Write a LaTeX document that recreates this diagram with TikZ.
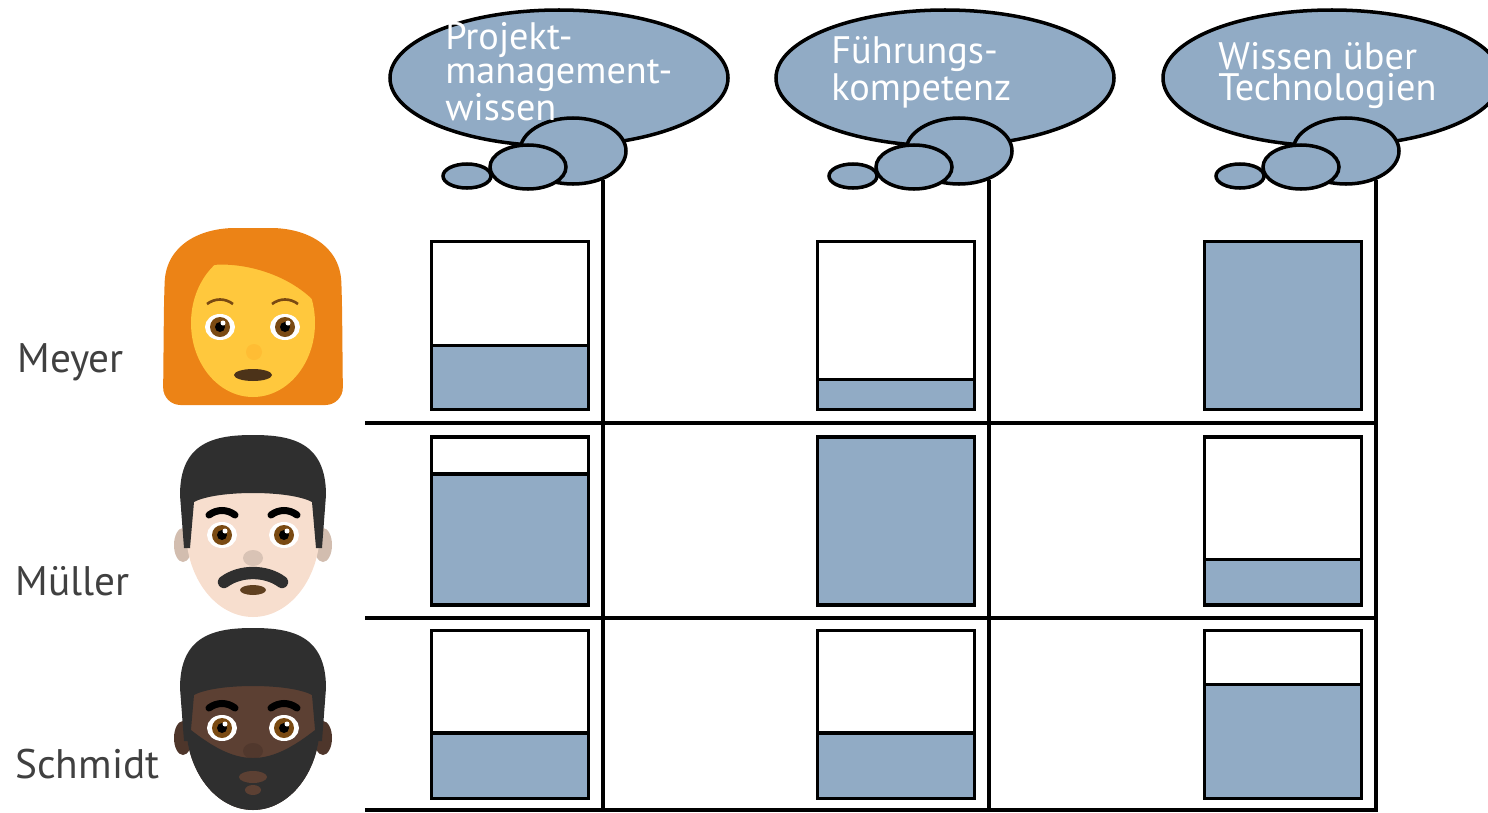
\documentclass[tikz,border=0pt]{standalone}
\usepackage{fontspec}
\setmainfont{PT Sans}
\usetikzlibrary{calc}
\definecolor{skill}{RGB}{145,171,197}
\definecolor{namegray}{RGB}{64,64,64}
\definecolor{redhair}{RGB}{236,131,22}
\definecolor{yellowskin}{RGB}{255,200,61}
\definecolor{lightskin}{RGB}{247,222,206}
\definecolor{darkskin}{RGB}{92,64,51}
\definecolor{blackhair}{RGB}{47,47,47}
\definecolor{iris}{RGB}{122,74,18}
\newcommand{\eye}[2]{\fill[white] (#1,#2) ellipse [x radius=15, y radius=13];
  \fill[iris] (#1,#2) circle [radius=10]; \fill[black] (#1,#2) circle [radius=5];
  \fill[white] (#1+3,#2-4) circle [radius=2.5];}
\newcommand{\brow}[2]{\draw[brow] (#1-13,#2+3) .. controls (#1-5,#2-3) and (#1+5,#2-3) .. (#1+13,#2+3);}

\begin{document}
\begin{tikzpicture}[x=0.02cm, y=-0.02cm,
    grid/.style={line width=2.3pt},
    bubble/.style={fill=skill, draw=black, line width=2pt},
    skilltext/.style={anchor=base west, align=left, text=white, inner sep=0pt,
      font=\fontsize{21.8}{17.5}\selectfont},
    person/.style={anchor=base west, inner sep=0pt, text=namegray,
      font=\fontsize{23.5}{28}\selectfont},
    level/.style={draw, line width=1.9pt, inner sep=0pt, minimum width=3.14cm, minimum height=3.36cm,
      path picture={\fill[skill] (path picture bounding box.south west) rectangle
        ($(path picture bounding box.south east)!#1!(path picture bounding box.north east)$);
        \draw[line width=1.9pt] ($(path picture bounding box.south west)!#1!(path picture bounding box.north west)$)
        -- ($(path picture bounding box.south east)!#1!(path picture bounding box.north east)$);}},
    brow/.style={line width=4pt, line cap=round}]
  \useasboundingbox (0,0) rectangle (1488,812);

  % grid
  \foreach \x in {603, 989, 1376}
    \draw[grid] (\x,180) -- (\x,812);
  \foreach \y in {423, 618, 810}
    \draw[grid] (365,\y) -- (1376,\y);

  % thought bubbles
  \foreach \x/\ty/\txt [count=\i] in {603/120/{Projekt-\\management-\\wissen},
      989/100/{Führungs-\\kompetenz}, 1376/100/{Wissen über\\Technologien}} {
    \draw[bubble] (\x-44,78) ellipse [x radius=169, y radius=68];
    \draw[bubble] (\x-30,151) ellipse [x radius=53, y radius=33];
    \draw[bubble] (\x-75,167) ellipse [x radius=38, y radius=22];
    \draw[bubble] (\x-136,176) ellipse [x radius=24, y radius=12];
    \node[skilltext] (skill\i) at (\x-158,\ty) {\txt};
  }

  % levels
  \foreach \r/\y/\fa/\fb/\fc in {1/325.5/.38/.18/1, 2/521/.78/1/.27, 3/714.5/.39/.39/.68}
    \foreach \c/\x/\f in {1/510/\fa, 2/896/\fb, 3/1283/\fc}
      \node[level=\f] (lvl-\r-\c) at (\x,\y) {};

  % names
  \node[person] (meyer) at (17,372) {Meyer};
  \node[person] (mueller) at (15,595) {Müller};
  \node[person] (schmidt) at (15,778) {Schmidt};

  % Meyer
  \fill[redhair, rounded corners=10] (163,405) -- (164,300) .. controls (166,245) and (200,228) .. (253,228)
    .. controls (306,228) and (340,245) .. (342,300) -- (343,405) -- cycle;
  \fill[yellowskin] (253,323) ellipse [x radius=62, y radius=74];
  \fill[redhair] (205,252) -- (213,265) .. controls (245,262) and (295,275) .. (322,310) -- (336,300)
    -- (332,255) .. controls (310,240) and (260,238) .. (205,252) -- cycle;
  \draw[iris, line width=1.5pt] (207,304) .. controls (215,298) and (225,298) .. (233,304);
  \draw[iris, line width=1.5pt] (272,304) .. controls (280,298) and (290,298) .. (298,304);
  \eye{220}{327} \eye{285}{327}
  \fill[yellowskin!85!orange] (254,352) ellipse [x radius=8, y radius=8];
  \fill[black!60!brown] (253,375) ellipse [x radius=19, y radius=6];

  % Mueller and Schmidt
  \foreach \dy/\skin in {0/lightskin, 193/darkskin} {
    \begin{scope}[shift={(0,\dy)}]
      \fill[\skin!85!black] (183,545) ellipse [x radius=9, y radius=17];
      \fill[\skin!85!black] (323,545) ellipse [x radius=9, y radius=17];
      \fill[\skin] (253,530) ellipse [x radius=67, y radius=87];
      \fill[blackhair] (184,548) -- (180,495) .. controls (180,442) and (215,435) .. (253,435)
        .. controls (291,435) and (326,442) .. (326,495) -- (322,548) -- (316,548) -- (312,502)
        .. controls (290,490) and (216,490) .. (194,502) -- (190,548) -- cycle;
      \brow{222}{512} \brow{284}{512}
      \eye{222}{535} \eye{284}{535}
      \fill[\skin!88!black] (253,558) ellipse [x radius=10, y radius=8];
    \end{scope}
  }
  \draw[blackhair, line width=7pt, line cap=round] (224,582) .. controls (240,570) and (266,570) .. (282,582);
  \fill[black!50!brown] (253,590) ellipse [x radius=13, y radius=5];
  \begin{scope}[shift={(0,193)}]
    \clip (253,530) ellipse [x radius=67, y radius=87];
    \fill[blackhair] (170,520) .. controls (200,545) and (225,565) .. (253,565)
      .. controls (281,565) and (306,545) .. (336,520) -- (336,640) -- (170,640) -- cycle;
    \fill[darkskin] (253,584) ellipse [x radius=14, y radius=6];
    \fill[darkskin] (253,597) ellipse [x radius=8, y radius=5];
  \end{scope}
\end{tikzpicture}
\end{document}
